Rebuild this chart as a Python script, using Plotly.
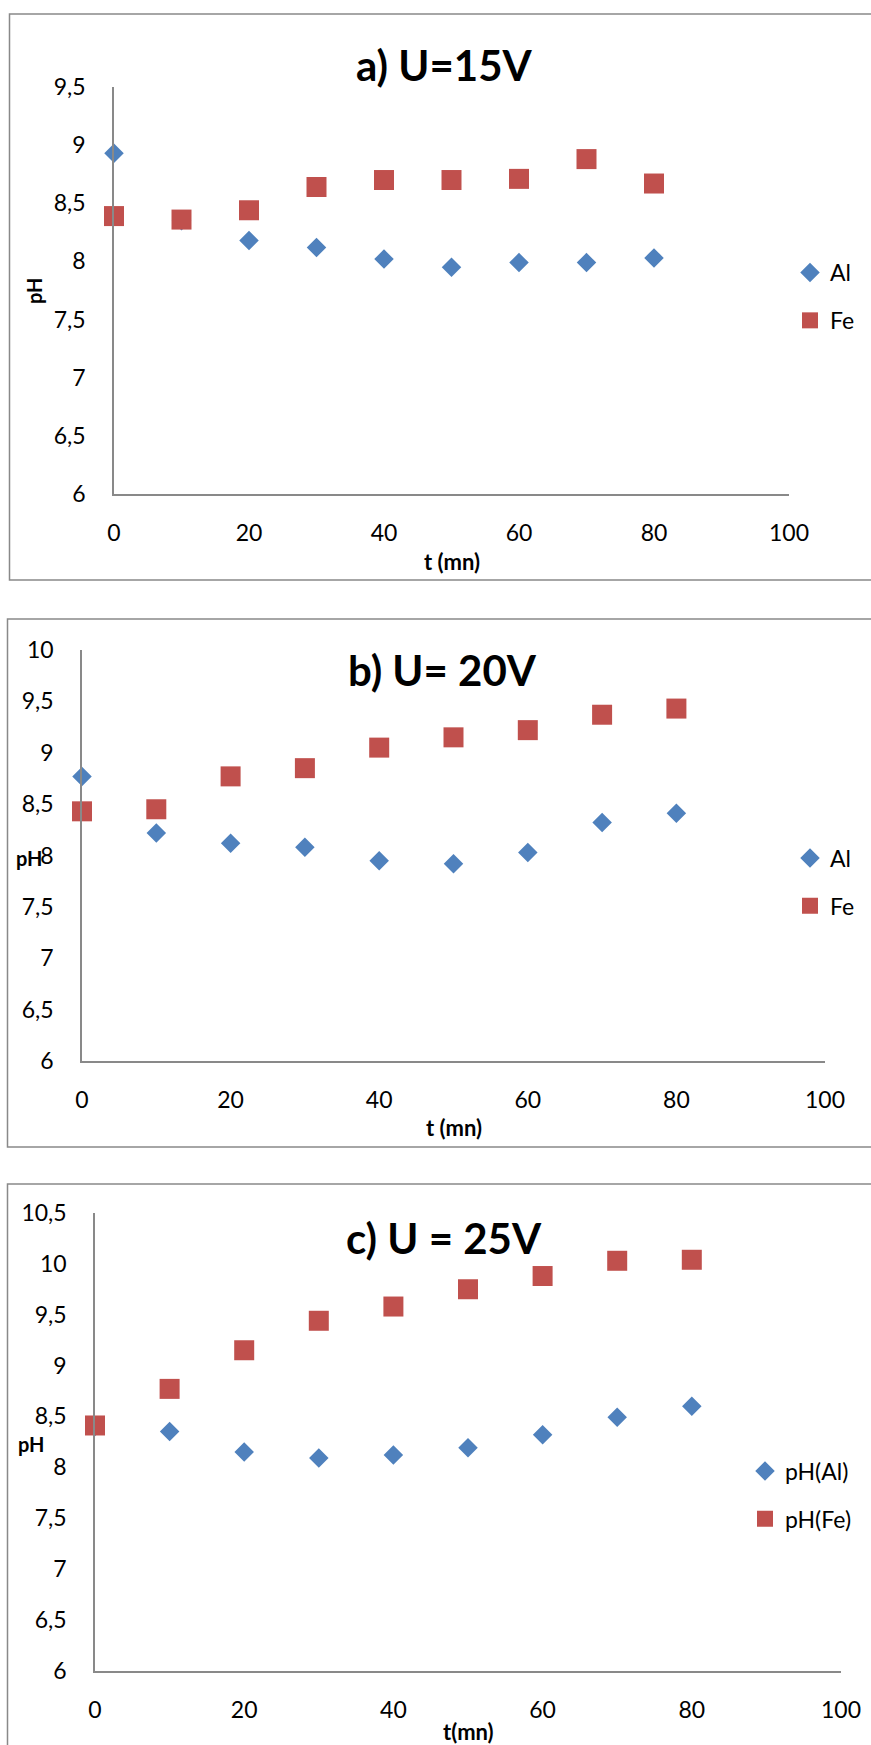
import plotly.graph_objects as go

W, H = 871, 1745

# ---- data ----
t = [0, 10, 20, 30, 40, 50, 60, 70, 80]
a_al = [8.93, 8.35, 8.18, 8.12, 8.02, 7.95, 7.99, 7.99, 8.03]
a_fe = [8.39, 8.36, 8.44, 8.64, 8.70, 8.70, 8.71, 8.88, 8.67]
b_al = [8.77, 8.22, 8.12, 8.08, 7.95, 7.92, 8.03, 8.32, 8.41]
b_fe = [8.43, 8.45, 8.77, 8.85, 9.05, 9.15, 9.22, 9.37, 9.43]
c_al = [8.40, 8.35, 8.15, 8.09, 8.12, 8.19, 8.32, 8.49, 8.60]
c_fe = [8.41, 8.77, 9.15, 9.44, 9.58, 9.75, 9.88, 10.03, 10.04]

titles = ["a) U=15V", "b) U= 20V", "c) U = 25V"]
names_ab = ["Al", "Fe"]
names_c = ["pH(Al)", "pH(Fe)"]
xtitles = ["t (mn)", "t (mn)", "t(mn)"]

x_ticks = [0, 20, 40, 60, 80, 100]
x_ticktext = ["0", "20", "40", "60", "80", "100"]
y_ticks_a = [6, 6.5, 7, 7.5, 8, 8.5, 9, 9.5]
y_ticks_b = [6, 6.5, 7, 7.5, 8, 8.5, 9, 9.5, 10]
y_ticks_c = [6, 6.5, 7, 7.5, 8, 8.5, 9, 9.5, 10, 10.5]


def fmt(v):
    s = ("%g" % v)
    return s.replace(".", ",")


BLUE = "#4F81BD"
RED = "#C0504D"
AXIS = "#898989"
FONT = "Lato"

fig = go.Figure()


def px_x(p):
    return p / W


def px_y(p):
    return 1 - p / H


panels = [
    dict(box=(114, 789, 87, 494), al=a_al, fe=a_fe, names=names_ab, yt=y_ticks_a,
         yr=[6, 9.5], title_xy=(444, 65), legend_xy=(790, 296.5),
         frame=(9.5, 880, 14, 580), ytitle_xy=(34, 291), ytitle_angle=-90,
         xtitle_y=561),
    dict(box=(82, 825, 650, 1061), al=b_al, fe=b_fe, names=names_ab, yt=y_ticks_b,
         yr=[6, 10], title_xy=(442, 670), legend_xy=(790, 882),
         frame=(7.5, 880, 619, 1147), ytitle_xy=(29, 858), ytitle_angle=0,
         xtitle_y=1127),
    dict(box=(95, 841, 1213, 1670.5), al=c_al, fe=c_fe, names=names_c, yt=y_ticks_c,
         yr=[6, 10.5], title_xy=(444, 1238), legend_xy=(745, 1495),
         frame=(7.5, 880, 1184, 1760), ytitle_xy=(31, 1444), ytitle_angle=0,
         xtitle_y=1731),
]

annotations = []
shapes = []
for i, p in enumerate(panels):
    k = "" if i == 0 else str(i + 1)
    xa, ya = "x" + k, "y" + k
    leg = "legend" + k
    l, r, tp, bt = p["box"]
    fig.add_trace(go.Scatter(
        x=t, y=p["al"], mode="markers", name=p["names"][0], xaxis=xa, yaxis=ya,
        legend=leg, legendgroup=f"al{i}", cliponaxis=False,
        marker=dict(symbol="diamond", size=15, color=BLUE, line=dict(width=0))))
    fig.add_trace(go.Scatter(
        x=t, y=p["fe"], mode="markers", name=p["names"][1], xaxis=xa, yaxis=ya,
        legend=leg, legendgroup=f"fe{i}", cliponaxis=False,
        marker=dict(symbol="square", size=20, color=RED, line=dict(width=0))))

    fig.layout["xaxis" + k] = dict(
        domain=[px_x(l), px_x(r)], range=[0, 100], anchor=ya,
        showline=True, linecolor=AXIS, linewidth=1.5, showgrid=False, zeroline=False,
        tickvals=x_ticks, ticktext=x_ticktext, ticks="outside", ticklen=18,
        tickcolor="rgba(0,0,0,0)", tickfont=dict(family=FONT, size=23, color="black"),
    )
    fig.layout["yaxis" + k] = dict(
        domain=[px_y(bt), px_y(tp)], range=p["yr"], anchor=xa,
        showline=True, linecolor=AXIS, linewidth=1.5, showgrid=False, zeroline=False,
        tickvals=p["yt"], ticktext=[fmt(v) for v in p["yt"]], ticks="outside", ticklen=22,
        tickcolor="rgba(0,0,0,0)", tickfont=dict(family=FONT, size=23, color="black"),
    )
    lx, ly = p["legend_xy"]
    fig.layout[leg] = dict(
        x=px_x(lx), y=px_y(ly), xanchor="left", yanchor="middle",
        font=dict(family=FONT, size=23, color="black"), bgcolor="rgba(0,0,0,0)",
        traceorder="grouped", tracegroupgap=15, borderwidth=0,
    )
    tx, ty = p["title_xy"]
    annotations.append(dict(
        text="<b>" + titles[i] + "</b>", x=px_x(tx), y=px_y(ty), xref="paper", yref="paper",
        showarrow=False, xanchor="center", yanchor="middle",
        font=dict(family=FONT, size=42, color="black")))
    yx, yy = p["ytitle_xy"]
    annotations.append(dict(
        text="<b>pH</b>", x=px_x(yx), y=px_y(yy), xref="paper", yref="paper",
        showarrow=False, xanchor="center", yanchor="middle", textangle=p["ytitle_angle"],
        font=dict(family=FONT, size=20, color="black")))
    annotations.append(dict(
        text="<b>" + xtitles[i] + "</b>", x=(l + r) / 2 / W, y=px_y(p["xtitle_y"]),
        xref="paper", yref="paper", showarrow=False, xanchor="center", yanchor="middle",
        font=dict(family=FONT, size=22, color="black")))
    fx0, fx1, fy0, fy1 = p["frame"]
    shapes.append(dict(type="rect", xref="paper", yref="paper",
                       x0=px_x(fx0), x1=px_x(fx1), y0=px_y(fy1), y1=px_y(fy0),
                       line=dict(color=AXIS, width=1.5), layer="below"))

fig.update_layout(
    width=W, height=H, autosize=False,
    margin=dict(l=0, r=0, t=0, b=0, pad=0, autoexpand=False),
    paper_bgcolor="white", plot_bgcolor="rgba(0,0,0,0)",
    annotations=annotations, shapes=shapes,
    font=dict(family=FONT, color="black"),
)

fig.write_html("out.html")
